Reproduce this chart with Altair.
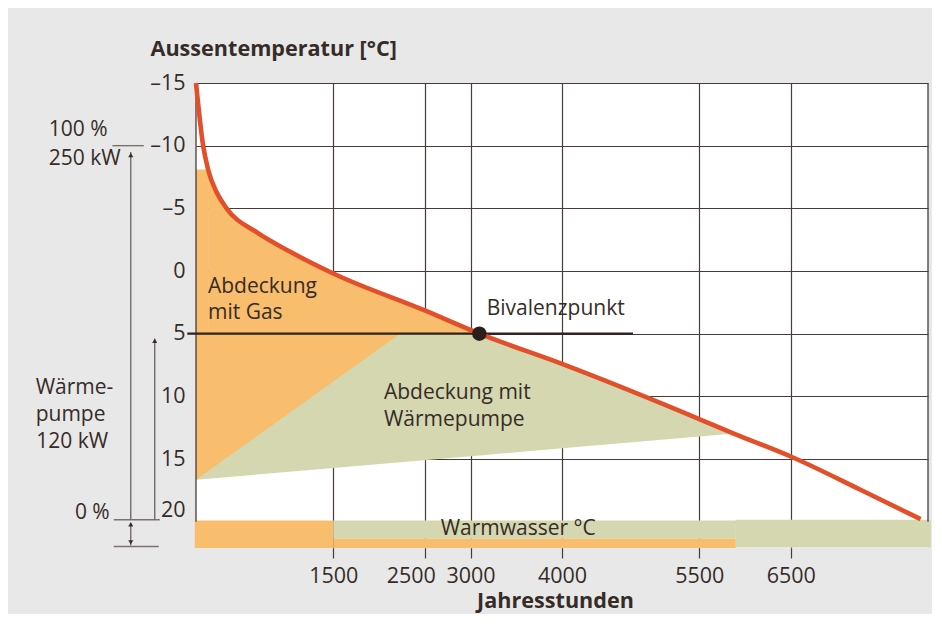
import altair as alt
import pandas as pd

# ---------------- data ----------------
# annual duration curve of outside temperature
curve_hours = [0, 78, 132, 224, 334, 662, 1026, 1500, 2500, 3097, 4000, 5500, 5877, 6500, 7262, 7919]
curve_temp = [-15, -10, -8.1, -6.3, -5.0, -3.1, -1.55, 0.2, 3.15, 5.0, 7.41, 11.81, 12.97, 14.8, 17.45, 19.8]

# gas coverage (above bivalence temperature)
gas_cap_hours = [0, 132]
gas_cap_top = [-8.1, -8.1]
gas_hours = [132, 224, 334, 662, 1026, 1500, 2500, 3097]
gas_top = [-8.1, -6.3, -5.0, -3.1, -1.55, 0.2, 3.15, 5.0]
bival_temp = 5.0

# gas coverage triangle below bivalence temperature
gas_tri_hours = [0, 2230]
gas_tri_top = [5.0, 5.0]
gas_tri_bottom = [16.66, 5.0]

# heat pump coverage
wp_hours = [0, 3097, 4000, 5500, 5877]
wp_top = [5.0, 5.0, 7.41, 11.81, 12.97]
wp_bottom = [16.66, 14.72, 14.15, 13.2, 12.97]

# bivalence point and line
bival_hours = 3097
bival_line_start = -95
bival_line_end = 4776

# hot water bar segments
ww_start = [-13, 1500, 1500, 5900]
ww_end = [1500, 5900, 5900, 8030]
ww_top = [19.9, 19.9, 21.36, 19.85]
ww_bottom = [22.1, 21.36, 22.1, 22.06]
ww_kind = ["Gas", "WP", "Gas", "WP"]

# frame
border_hours = [0, 8000]
border_top = [-15, -15]
border_bottom = [20, 20]

# axis ticks
x_ticks = [1500, 2500, 3000, 4000, 5500, 6500]
y_ticks = [-15, -10, -5, 0, 5, 10, 15, 20]

# labels inside the plot
label_text = ["Abdeckung", "mit Gas", "Abdeckung mit", "Wärmepumpe", "Bivalenzpunkt", "Warmwasser °C"]
label_hours = [131, 131, 2054, 2054, 3177, 2674]
label_temp = [1.72, 3.84, 10.2, 12.33, 3.5, 21.04]

# side annotations
side_text = ["100 %", "250 kW", "Wärme-", "pumpe", "120 kW"]
side_hours = [-1610, -1610, -1752, -1752, -1745]
side_temp = [-10.77, -8.46, 9.8, 12.0, 14.13]
zero_text = ["0 %"]
zero_hours = [-943]
zero_temp = [19.8]

hline_start = [-913, -899, -899]
hline_end = [-571, -396, -407]
hline_temp = [-10, 19.85, 21.98]

arrow_hours = [-713, -451, -713]
arrow_top = [-9.5, 5.4, 20.1]
arrow_bottom = [19.85, 19.85, 21.9]
head_up_hours = [-713, -451, -713]
head_up_temp = [-9.26, 5.57, 20.2]
head_down_hours = [-713]
head_down_temp = [21.65]

# ---------------- styles ----------------
ORANGE = "#f8bd6d"
GREEN = "#d4d7b0"
RED = "#e2502b"
GRID = "#463d38"
TEXT = "#362c27"
ANNO = "#6a625d"
FONT = "Open Sans"
FS = 21
TFS = 21.5
BFS = 21.6

xs = alt.Scale(domain=[0, 8000], nice=False, zero=False)
ys = alt.Scale(domain=[-15, 22.1], reverse=True, nice=False, zero=False)

x_axis = alt.Axis(
    values=x_ticks, format="d", grid=True, gridColor=GRID, gridWidth=1.2, domain=False,
    ticks=True, tickSize=10, tickColor=GRID, tickWidth=1.2,
    labelFont=FONT, labelFontSize=TFS, labelColor=TEXT, labelPadding=7,
    labelOffset={"condition": {"test": "datum.value == 2500", "value": -14}, "value": 0},
    labelFlush=False, labelOverlap=False,
    titleFont=FONT, titleFontSize=BFS, titleFontWeight="bold", titleColor=TEXT,
    titleX=359, titleY=59, titleAlign="center", titleBaseline="alphabetic",
)
y_axis = alt.Axis(
    values=y_ticks, grid=True, gridColor=GRID, gridWidth=1.2, domain=False,
    ticks=False, tickSize=0,
    labelFont=FONT, labelFontSize=TFS, labelColor=TEXT, labelPadding=11,
    labelExpr="datum.value < 0 ? '–' + abs(datum.value) : '' + datum.value",
    labelBaseline={"condition": {"test": "datum.value == 20", "value": "bottom"}, "value": "middle"},
    labelFlush=False, labelOverlap=False,
    titleFont=FONT, titleFontSize=BFS, titleFontWeight="bold", titleColor=TEXT,
    titleAngle=0, titleAlign="left", titleBaseline="alphabetic", titleX=-46, titleY=-28,
)

def X(f):
    return alt.X(f, type="quantitative", scale=xs, axis=x_axis, title="Jahresstunden")

def Y(f):
    return alt.Y(f, type="quantitative", scale=ys, axis=y_axis, title="Aussentemperatur [°C]")

# ---------------- layers ----------------
wp = alt.Chart(pd.DataFrame({"h": wp_hours, "t": wp_top, "t2": wp_bottom})).mark_area(
    color=GREEN, orient="vertical", interpolate="linear"
).encode(x=X("h"), y=Y("t"), y2="t2")

gas_cap = alt.Chart(pd.DataFrame({"h": gas_cap_hours, "t": gas_cap_top, "t2": [bival_temp] * len(gas_cap_hours)})).mark_area(
    color=ORANGE, orient="vertical", interpolate="linear"
).encode(x=X("h"), y=Y("t"), y2="t2")

gas = alt.Chart(pd.DataFrame({"h": gas_hours, "t": gas_top, "t2": [bival_temp] * len(gas_hours)})).mark_area(
    color=ORANGE, orient="vertical", interpolate="monotone"
).encode(x=X("h"), y=Y("t"), y2="t2")

gas_tri = alt.Chart(pd.DataFrame({"h": gas_tri_hours, "t": gas_tri_top, "t2": gas_tri_bottom})).mark_area(
    color=ORANGE, orient="vertical", interpolate="linear"
).encode(x=X("h"), y=Y("t"), y2="t2")

ww = alt.Chart(pd.DataFrame({"h": ww_start, "h2": ww_end, "t": ww_top, "t2": ww_bottom, "k": ww_kind})).mark_rect().encode(
    x=X("h"), x2="h2", y=Y("t"), y2="t2",
    color=alt.Color("k:N", scale=alt.Scale(domain=["Gas", "WP"], range=[ORANGE, GREEN]), legend=None),
)

border = alt.Chart(pd.DataFrame({"h": border_hours, "t": border_top, "t2": border_bottom})).mark_rule(
    color=GRID, strokeWidth=1.3
).encode(x=X("h"), y=Y("t"), y2="t2")

bival_line = alt.Chart(pd.DataFrame({"h": [bival_line_start], "h2": [bival_line_end], "t": [bival_temp]})).mark_rule(
    color="#2d221d", strokeWidth=2.2
).encode(x=X("h"), x2="h2", y=Y("t"))

curve = alt.Chart(pd.DataFrame({"h": curve_hours, "t": curve_temp})).mark_line(
    color=RED, strokeWidth=4.6, interpolate="monotone"
).encode(x=X("h"), y=Y("t"))

bival_pt = alt.Chart(pd.DataFrame({"h": [bival_hours], "t": [bival_temp]})).mark_circle(
    color="#2b1f1a", size=210, opacity=1
).encode(x=X("h"), y=Y("t"))

labels = alt.Chart(pd.DataFrame({"h": label_hours, "t": label_temp, "s": label_text})).mark_text(
    align="left", baseline="alphabetic", font=FONT, fontSize=FS, color=TEXT
).encode(x=X("h"), y=Y("t"), text="s:N")

side = alt.Chart(pd.DataFrame({"h": side_hours, "t": side_temp, "s": side_text})).mark_text(
    align="left", baseline="alphabetic", font=FONT, fontSize=FS, color=TEXT
).encode(x=X("h"), y=Y("t"), text="s:N")

zero = alt.Chart(pd.DataFrame({"h": zero_hours, "t": zero_temp, "s": zero_text})).mark_text(
    align="right", baseline="alphabetic", font=FONT, fontSize=FS, color=TEXT
).encode(x=X("h"), y=Y("t"), text="s:N")

hlines = alt.Chart(pd.DataFrame({"h": hline_start, "h2": hline_end, "t": hline_temp})).mark_rule(
    color="#7a726d", strokeWidth=1.4
).encode(x=X("h"), x2="h2", y=Y("t"))

arrows = alt.Chart(pd.DataFrame({"h": arrow_hours, "t": arrow_top, "t2": arrow_bottom})).mark_rule(
    color=ANNO, strokeWidth=1.3
).encode(x=X("h"), y=Y("t"), y2="t2")

heads_up = alt.Chart(pd.DataFrame({"h": head_up_hours, "t": head_up_temp})).mark_point(
    shape="triangle-up", filled=True, color="#3a302b", size=26, opacity=1
).encode(x=X("h"), y=Y("t"))

heads_down = alt.Chart(pd.DataFrame({"h": head_down_hours, "t": head_down_temp})).mark_point(
    shape="triangle-down", filled=True, color="#3a302b", size=26, opacity=1
).encode(x=X("h"), y=Y("t"))

chart = alt.layer(
    wp, gas_cap, gas, gas_tri, ww, border, bival_line, curve, bival_pt,
    labels, side, zero, hlines, arrows, heads_up, heads_down,
).properties(
    width=732, height=465,
    autosize=alt.AutoSizeParams(type="none"),
    padding={"left": 188, "top": 75, "right": 4, "bottom": 66},
    background="#e8e8e8",
).configure(font=FONT).configure_view(fill="white", strokeWidth=0)

chart.save("out.html", embed_options={"renderer": "svg", "actions": False})
